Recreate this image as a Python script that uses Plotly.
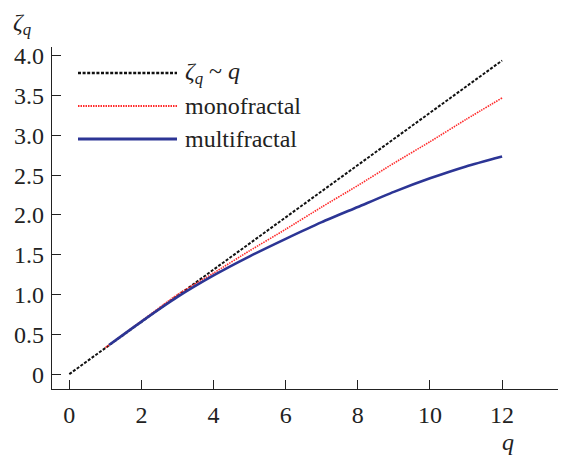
import plotly.graph_objects as go

# data
q_linear = [0, 12]
zeta_linear = [0.0, 3.94]

q_mono = [1, 2, 3, 4, 5, 6, 7, 8, 9, 10, 11, 12]
zeta_mono = [0.333, 0.667, 1.0, 1.27, 1.55, 1.82, 2.10, 2.37, 2.65, 2.92, 3.20, 3.47]

q_multi = [1.1, 2, 3, 4, 5, 6, 7, 8, 9, 10, 11, 12]
zeta_multi = [0.365, 0.66, 0.97, 1.24, 1.48, 1.70, 1.91, 2.10, 2.29, 2.46, 2.61, 2.735]

x_ticks = [0, 2, 4, 6, 8, 10, 12]
y_ticks = [0, 0.5, 1.0, 1.5, 2.0, 2.5, 3.0, 3.5, 4.0]
y_ticklabels = ["0", "0.5", "1.0", "1.5", "2.0", "2.5", "3.0", "3.5", "4.0"]

legend_names = ["<i>ζ</i><sub><i>q</i></sub> ~ <i>q</i>", "monofractal", "multifractal"]
colors = ["#111111", "#ff2a2a", "#2c3595"]
widths = [2, 1.6, 2.6]
dashes = ["3px,1.6px", "1.5px,1px", "solid"]

FONT = "Liberation Serif, Times New Roman, serif"
FS = 24

fig = go.Figure()
series = [(q_linear, zeta_linear), (q_mono, zeta_mono), (q_multi, zeta_multi)]
for (xs, ys), c, w, d in zip(series, colors, widths, dashes):
    fig.add_trace(go.Scatter(x=xs, y=ys, mode="lines", line=dict(color=c, width=w, dash=d,
                                                                  shape="spline", smoothing=0.6),
                             showlegend=False, hoverinfo="skip"))

W, H = 572, 456
ml, mr, mt, mb = 52, 14, 47, 67
pw, ph = W - ml - mr, H - mt - mb

fig.update_layout(
    width=W, height=H,
    margin=dict(l=ml, r=mr, t=mt, b=mb),
    paper_bgcolor="white", plot_bgcolor="white",
    font=dict(family=FONT, size=FS, color="#222"),
    xaxis=dict(range=[-0.48, 13.55], tickvals=x_ticks, ticks="inside", ticklen=9,
               tickwidth=1.2, tickcolor="#222", showline=True, linecolor="#222",
               linewidth=1.3, showgrid=False, zeroline=False, ticklabelstandoff=4,
               tickfont=dict(family=FONT, size=FS, color="#222")),
    yaxis=dict(range=[-0.187, 4.11], tickvals=y_ticks, ticktext=y_ticklabels,
               ticks="inside", ticklen=9, tickwidth=1.2, tickcolor="#222",
               showline=True, linecolor="#222", linewidth=1.3, showgrid=False,
               zeroline=False, ticklabelstandoff=2,
               tickfont=dict(family=FONT, size=FS, color="#222")),
)

# axis titles
fig.add_annotation(xref="paper", yref="paper", x=(22 - ml) / pw, y=1 + (mt - 24) / ph,
                   xanchor="center", yanchor="middle",
                   text="<i>ζ</i><sub><i>q</i></sub>", showarrow=False,
                   font=dict(family=FONT, size=FS, color="#222"))
fig.add_annotation(xref="paper", yref="paper", x=(508 - ml) / pw, y=-(442 - (H - mb)) / ph,
                   xanchor="center", yanchor="middle",
                   text="<i>q</i>", showarrow=False,
                   font=dict(family=FONT, size=FS, color="#222"))

# manual legend
leg_rows = [73, 106, 139]
for name, c, w, d, yy in zip(legend_names, colors, widths, dashes, leg_rows):
    yp = 1 - (yy - mt) / ph
    fig.add_shape(type="line", xref="paper", yref="paper",
                  x0=(78 - ml) / pw, x1=(177 - ml) / pw, y0=yp, y1=yp,
                  line=dict(color=c, width=w + 0.4, dash=d))
    fig.add_annotation(xref="paper", yref="paper", x=(183 - ml) / pw, y=yp,
                       xanchor="left", yanchor="middle", text=name, showarrow=False,
                       font=dict(family=FONT, size=FS, color="#222"))

fig.write_html("out.html")
